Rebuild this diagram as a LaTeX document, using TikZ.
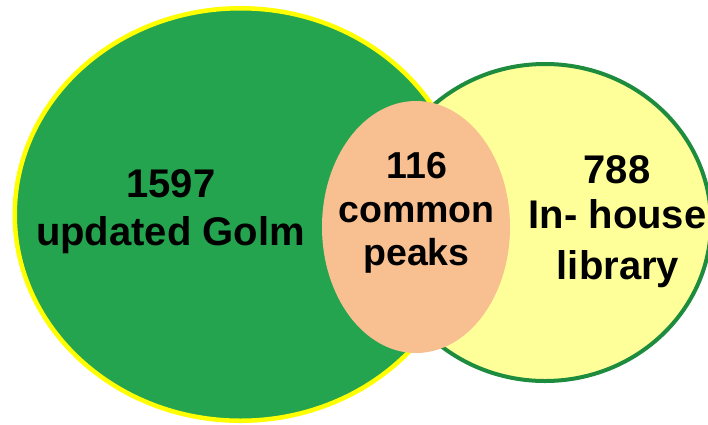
\documentclass[tikz,border=0pt]{standalone}
\usepackage{fontspec}
\setmainfont{Liberation Sans}
\definecolor{gfill}{RGB}{36,164,78}
\definecolor{yborder}{RGB}{255,255,0}
\definecolor{lyellow}{RGB}{255,255,153}
\definecolor{dgreen}{RGB}{30,140,62}
\definecolor{peach}{RGB}{248,192,144}
\begin{document}
\begin{tikzpicture}[x=1pt,y=-1pt,
  lbl/.style={anchor=base, inner sep=0pt, font=\fontsize{40}{48}\selectfont\bfseries},
  mlbl/.style={lbl, font=\fontsize{37.5}{45}\selectfont\bfseries}]
\useasboundingbox (0,0) rectangle (708,424);
\clip (0,0) rectangle (708,424);
% right set
\path[fill=lyellow, draw=dgreen, line width=4pt] (545,222.5) ellipse [x radius=166pt, y radius=158.5pt];
% left set
\path[fill=gfill, draw=yborder, line width=4.5pt] (240.5,214.5) ellipse [x radius=225.75pt, y radius=206.25pt];
% intersection
\path[fill=peach] (416,227) ellipse [x radius=94pt, y radius=126pt];
% labels
\node[lbl] (l1) at (171,197) {1597};
\node[lbl] (l2) at (170.5,245) {updated Golm};
\node[mlbl] (m1) at (417,178) {116};
\node[mlbl] (m2) at (416.5,222) {common};
\node[mlbl] (m3) at (416.5,265) {peaks};
\node[lbl] (r1) at (617,183) {788};
\node[lbl] (r2) at (617.5,228) {In- house};
\node[lbl] (r3) at (618,279) {library};
\end{tikzpicture}
\end{document}
